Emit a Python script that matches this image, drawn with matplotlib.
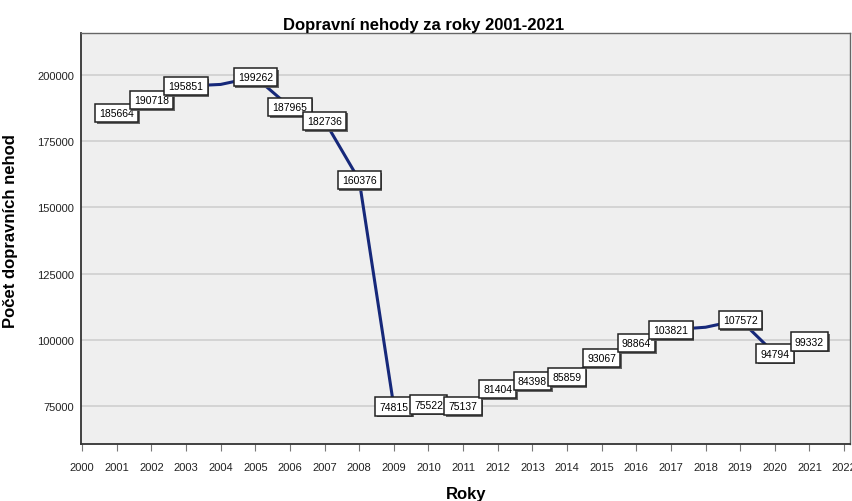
import matplotlib
matplotlib.use('Agg')
import matplotlib.pyplot as plt
import matplotlib.patheffects as pe

plt.rcParams['font.family'] = ['Liberation Sans', 'DejaVu Sans']

# data
years = [2001, 2002, 2003, 2004, 2005, 2006, 2007, 2008, 2009, 2010, 2011,
         2012, 2013, 2014, 2015, 2016, 2017, 2018, 2019, 2020, 2021]
accidents = [185664, 190718, 195851, 196484, 199262, 187965, 182736, 160376,
             74815, 75522, 75137, 81404, 84398, 85859, 93067, 98864, 103821,
             104764, 107572, 94794, 99332]
# labels hidden in the original (overlapping)
hidden_labels = [2004, 2018]
x_ticks = list(range(2000, 2023))
y_ticks = [75000, 100000, 125000, 150000, 175000, 200000]


def main():
    fig = plt.figure(figsize=(8.53, 5.02), dpi=100)
    ax = fig.add_axes([0.095, 0.1135, 0.9015, 0.8185])
    ax.set_facecolor('#efefef')

    ax.plot(years, accidents, color='#16287a', lw=2.2, zorder=3,
            solid_joinstyle='round')

    for yr, val in zip(years, accidents):
        if yr in hidden_labels:
            continue
        t = ax.text(yr, val, str(val), ha='center', va='center', fontsize=7.5,
                    zorder=5,
                    bbox=dict(boxstyle='square,pad=0.4', fc='white',
                              ec='#222222', lw=1.1))
        t.get_bbox_patch().set_path_effects(
            [pe.withSimplePatchShadow(offset=(1.2, -1.2),
                                      shadow_rgbFace='#555555', alpha=0.9)])

    ax.set_xlim(1999.97, 2022.17)
    ax.set_ylim(60650, 215860)
    ax.set_xticks(x_ticks)
    ax.set_xticklabels([str(v) for v in x_ticks], fontsize=8, color='#222222')
    ax.set_yticks(y_ticks)
    ax.set_yticklabels([str(v) for v in y_ticks], fontsize=8, color='#222222')
    ax.tick_params(axis='y', length=0, pad=5)
    ax.tick_params(axis='x', length=5, color='#777777', pad=8)

    ax.yaxis.grid(True, color='#d2d2d2', lw=1.3, zorder=1)
    ax.set_axisbelow(True)

    for side in ['left', 'bottom']:
        ax.spines[side].set_color('#333333')
        ax.spines[side].set_linewidth(1.3)
    for side in ['top', 'right']:
        ax.spines[side].set_color('#666666')
        ax.spines[side].set_linewidth(1.0)

    ax.set_ylabel('Počet dopravních nehod', fontsize=12, fontweight='bold')
    ax.yaxis.set_label_coords(-0.082, 0.52)

    fig.text(0.4965, 0.940, 'Dopravní nehody za roky 2001-2021',
             ha='center', va='baseline', fontsize=12, fontweight='bold')
    fig.text(0.547, 0.006, 'Roky', ha='center', va='baseline',
             fontsize=12, fontweight='bold')

    fig.savefig('out.png', dpi=100)


if __name__ == '__main__':
    main()
